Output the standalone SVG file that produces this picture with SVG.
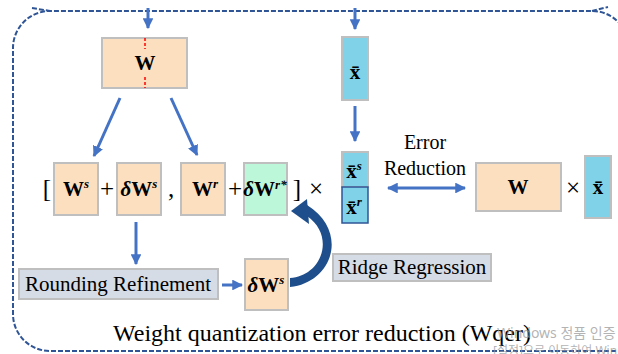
<svg xmlns="http://www.w3.org/2000/svg" width="618" height="354" viewBox="0 0 618 354">
  <style>
    .frame { fill: none; stroke: #2F5597; stroke-width: 2; stroke-dasharray: 5 2; }
    .peach { fill: #FBDFBF; stroke: #BFBFBF; stroke-width: 2; }
    .cyan { fill: #7FD2E8; stroke: #BFBFBF; stroke-width: 2; }
    .mint { fill: #BDF7DA; stroke: #BFBFBF; stroke-width: 2; }
    .label { fill: #D6DCE5; stroke: #BFBFBF; stroke-width: 2; }
    .math { font-family: "Liberation Serif", "DejaVu Serif", serif; font-weight: bold; font-size: 21px; fill: #000; text-anchor: middle; }
    .sup { font-style: italic; font-size: 13px; }
    .txt { font-family: "Liberation Serif", "DejaVu Serif", serif; fill: #000; }
    .op { font-family: "Liberation Serif", "DejaVu Serif", serif; font-size: 25px; fill: #000; text-anchor: middle; }
    .conn { stroke: #4472C4; stroke-width: 3; fill: none; }
    .wm { font-family: "Noto Sans", "Noto Sans CJK KR", sans-serif; fill: #9A9A9A; fill-opacity: 0.75; }
  </style>
  <defs>
    <marker id="head" viewBox="0 0 10 10" refX="9" refY="5" markerWidth="3.6" markerHeight="3.6" orient="auto-start-reverse" markerUnits="strokeWidth">
      <path d="M0,0 L10,5 L0,10 Z" fill="#4472C4"/>
    </marker>
  </defs>

  <!-- dashed enclosing frame -->
  <path class="frame" d="M 630 351 L 50 351 A 37 37 0 0 1 13 314 L 13 48 A 37 37 0 0 1 50 11 L 592 11 A 37 37 0 0 1 629 48"/>
  <path class="frame" d="M 32 8 L 50 11 M 592 11 L 608 7"/>

  <!-- weight matrix -->
  <g id="node-w">
    <rect class="peach" x="102" y="38" width="85" height="50"/>
    <line x1="145" y1="38" x2="145" y2="49" stroke="#FF0000" stroke-width="1.5" stroke-dasharray="3 2"/>
    <line x1="145" y1="77" x2="145" y2="88" stroke="#FF0000" stroke-width="1.5" stroke-dasharray="3 2"/>
    <text class="math" x="145" y="70">W</text>
  </g>

  <!-- activation vector -->
  <g id="node-x">
    <rect class="cyan" x="342" y="37" width="26" height="63"/>
    <text class="math" x="355" y="79">x̄</text>
  </g>

  <!-- split weight terms -->
  <g id="node-ws">
    <rect class="peach" x="54" y="163" width="44" height="52"/>
    <text class="math" x="76" y="196">W<tspan class="sup" dy="-8">s</tspan></text>
  </g>
  <g id="node-dws">
    <rect class="peach" x="117" y="163" width="44" height="52"/>
    <text class="math" x="139" y="196"><tspan font-style="italic">δ</tspan>W<tspan class="sup" dy="-8">s</tspan></text>
  </g>
  <g id="node-wr">
    <rect class="peach" x="181" y="163" width="44" height="52"/>
    <text class="math" x="205" y="196">W<tspan class="sup" dy="-8">r</tspan></text>
  </g>
  <g id="node-dwr">
    <rect class="mint" x="244" y="163" width="43" height="52"/>
    <text class="math" x="265" y="196" font-weight="normal" font-size="19"><tspan font-style="italic">δ</tspan><tspan font-weight="bold">W</tspan><tspan class="sup" dy="-7" font-size="11">r*</tspan></text>
  </g>

  <!-- brackets and operators of the split expression -->
  <g id="expr-ops">
    <text class="op" x="47" y="197">[</text>
    <text class="op" x="107" y="197">+</text>
    <text class="op" x="171" y="197">,</text>
    <text class="op" x="235" y="197">+</text>
    <text class="op" x="297" y="197">]</text>
    <text class="op" x="316" y="197">×</text>
  </g>

  <!-- split activation -->
  <g id="node-xs">
    <rect class="cyan" x="342" y="152" width="26" height="35"/>
    <text class="math" x="354" y="178">x̄<tspan class="sup" dy="-8">s</tspan></text>
  </g>
  <g id="node-xr">
    <rect x="342" y="187" width="26" height="36" fill="#7FD2E8" stroke="#2F5597" stroke-width="1.5"/>
    <text class="math" x="354" y="214">x̄<tspan class="sup" dy="-8">r</tspan></text>
  </g>

  <!-- full-precision product -->
  <g id="node-w-full">
    <rect class="peach" x="476" y="163" width="85" height="48"/>
    <text class="math" x="518" y="194">W</text>
  </g>
  <text class="op" x="573" y="196">×</text>
  <g id="node-x-full">
    <rect class="cyan" x="585" y="156" width="26" height="62"/>
    <text class="math" x="598" y="194">x̄</text>
  </g>

  <!-- refinement steps -->
  <g id="node-rounding">
    <rect class="label" x="19" y="269" width="199" height="30"/>
    <text class="txt" x="118" y="291" font-size="21" text-anchor="middle">Rounding Refinement</text>
  </g>
  <g id="node-dws-out">
    <rect class="peach" x="245" y="259" width="43" height="51"/>
    <text class="math" x="266" y="292"><tspan font-style="italic">δ</tspan>W<tspan class="sup" dy="-8">s</tspan></text>
  </g>
  <g id="node-ridge">
    <rect class="label" x="333" y="254" width="158" height="27"/>
    <text class="txt" x="412" y="274" font-size="21" text-anchor="middle">Ridge Regression</text>
  </g>

  <!-- connectors -->
  <g id="connectors">
    <line class="conn" x1="148" y1="8" x2="148" y2="28" marker-end="url(#head)"/>
    <line class="conn" x1="355" y1="8" x2="355" y2="29" marker-end="url(#head)"/>
    <line class="conn" x1="120" y1="98" x2="94" y2="156" marker-end="url(#head)"/>
    <line class="conn" x1="171" y1="98" x2="197" y2="155" marker-end="url(#head)"/>
    <line class="conn" x1="355" y1="106" x2="355" y2="141" marker-end="url(#head)"/>
    <line class="conn" x1="136" y1="222" x2="136" y2="264" marker-end="url(#head)"/>
    <line class="conn" x1="222" y1="285" x2="242" y2="285" marker-end="url(#head)"/>
    <line class="conn" x1="388" y1="188" x2="465" y2="188" marker-start="url(#head)" marker-end="url(#head)"/>
    <!-- curved feedback arrow -->
    <path d="M 290 287 C 332 283, 350 232, 307 205 L 307 216 C 336 236, 322 276, 290 278 Z" fill="#1F4E8C"/>
    <polygon points="291,211 307,199 309,224" fill="#1F4E8C"/>
  </g>

  <!-- annotations -->
  <text class="txt" x="425" y="149" font-size="20" text-anchor="middle">Error</text>
  <text class="txt" x="425" y="175" font-size="20" text-anchor="middle">Reduction</text>
  <text class="txt" x="322" y="341" font-size="24" text-anchor="middle">Weight quantization error reduction (Wqer)</text>

  <!-- system watermark -->
  <text class="wm" x="497" y="338" font-size="14">Windows 정품 인증</text>
  <text class="wm" x="493" y="355" font-size="12">[설정]으로 이동하여 Windows</text>
</svg>
